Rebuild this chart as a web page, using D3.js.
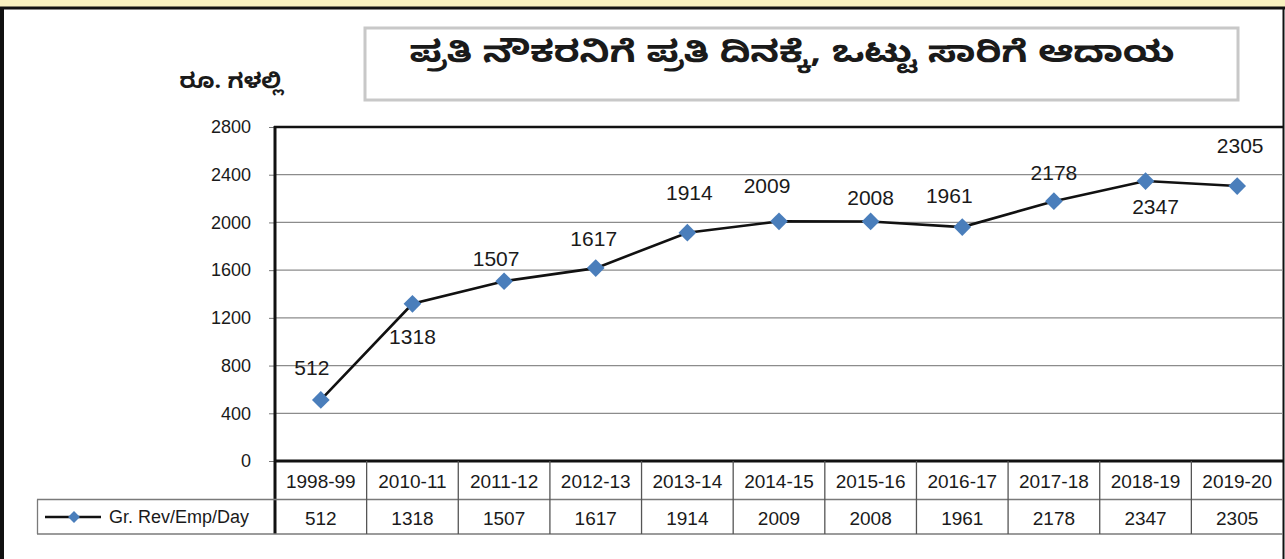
<!DOCTYPE html>
<html>
<head>
<meta charset="utf-8">
<script src="https://cdn.jsdelivr.net/npm/d3@7/dist/d3.min.js"></script>
<style>
  html, body { margin: 0; padding: 0; background: #fff; }
  svg { display: block; }
  text { font-family: "Liberation Sans", Arial, sans-serif; fill: #1a1a1a; }
</style>
</head>
<body>
<svg id="chart" width="1285" height="559"></svg>
<script>
// ---- data ----
const categories = ["1998-99","2010-11","2011-12","2012-13","2013-14","2014-15","2015-16","2016-17","2017-18","2018-19","2019-20"];
const values = [512, 1318, 1507, 1617, 1914, 2009, 2008, 1961, 2178, 2347, 2305];
const yTicks = [0, 400, 800, 1200, 1600, 2000, 2400, 2800];
const seriesName = "Gr. Rev/Emp/Day";
const titleText = "ಪ್ರತಿ ನೌಕರನಿಗೆ ಪ್ರತಿ ದಿನಕ್ಕೆ, ಒಟ್ಟು ಸಾರಿಗೆ ಆದಾಯ";
const yUnitText = "ರೂ. ಗಳಲ್ಲಿ";

// ---- drawing ----
const svg = d3.select("#chart");
const W = 1285, H = 559;
const kn = '"Noto Sans Kannada", "Noto Sans", "Lohit Kannada", "Tunga", sans-serif';

// frame decorations
svg.append("rect").attr("x",0).attr("y",0).attr("width",W).attr("height",H).attr("fill","#fff");
svg.append("rect").attr("x",0).attr("y",0).attr("width",W).attr("height",7).attr("fill","#f9f1c0");
svg.append("line").attr("x1",0).attr("x2",W).attr("y1",8).attr("y2",8).attr("stroke","#111").attr("stroke-width",3);
svg.append("line").attr("x1",2).attr("x2",2).attr("y1",7).attr("y2",H).attr("stroke","#111").attr("stroke-width",4);
svg.append("line").attr("x1",1283.5).attr("x2",1283.5).attr("y1",7).attr("y2",H).attr("stroke","#111").attr("stroke-width",2);

// title box
svg.append("rect").attr("x",365).attr("y",28).attr("width",873).attr("height",72)
  .attr("fill","#fff").attr("stroke","#c8c8c8").attr("stroke-width",3);
svg.append("text").attr("x",792).attr("y",58).attr("text-anchor","middle")
  .attr("dominant-baseline","central")
  .style("font-family", kn).style("font-weight","bold").style("font-size","30px")
  .attr("textLength",765).attr("lengthAdjust","spacingAndGlyphs")
  .text(titleText);

// y unit
svg.append("text").attr("x",231).attr("y",85).attr("text-anchor","middle")
  .attr("dominant-baseline","central")
  .style("font-family", kn).style("font-weight","bold").style("font-size","21px")
  .attr("textLength",103).attr("lengthAdjust","spacingAndGlyphs")
  .text(yUnitText);

// scales
const x = d3.scaleBand().domain(categories).range([275, 1283]).padding(0);
const y = d3.scaleLinear().domain([0, 2800]).range([461, 127]);
const cx = c => x(c) + x.bandwidth()/2;

// gridlines
svg.append("g").selectAll("line").data(yTicks.filter(t => t > 0 && t < 2800)).join("line")
  .attr("x1",275).attr("x2",1283).attr("y1",d=>y(d)).attr("y2",d=>y(d))
  .attr("stroke","#8c8c8c").attr("stroke-width",1.2);

// y axis with ticks
const yAxis = d3.axisLeft(y).tickValues(yTicks).tickSize(6).tickPadding(18).tickFormat(d3.format("d"));
const gy = svg.append("g").attr("transform","translate(275,0)").call(yAxis);
gy.select(".domain").remove();
gy.selectAll(".tick line").attr("stroke","#777").attr("stroke-width",1);
gy.selectAll(".tick text").style("font-size","18px").style("font-family",'"Liberation Sans", Arial, sans-serif').attr("fill","#1a1a1a");

// plot frame: left, top, bottom
svg.append("line").attr("x1",275).attr("x2",275).attr("y1",126).attr("y2",534).attr("stroke","#111").attr("stroke-width",3);
svg.append("line").attr("x1",274).attr("x2",1284).attr("y1",127).attr("y2",127).attr("stroke","#111").attr("stroke-width",2.5);
svg.append("line").attr("x1",274).attr("x2",1284).attr("y1",461).attr("y2",461).attr("stroke","#111").attr("stroke-width",3);

// data table
const rowSep = 499.5, rowBot = 534;
svg.append("line").attr("x1",37).attr("x2",1283).attr("y1",rowSep).attr("y2",rowSep).attr("stroke","#7a7a7a").attr("stroke-width",1.3);
svg.append("line").attr("x1",37).attr("x2",1283).attr("y1",rowBot).attr("y2",rowBot).attr("stroke","#7a7a7a").attr("stroke-width",1.3);
svg.append("line").attr("x1",37.5).attr("x2",37.5).attr("y1",rowSep).attr("y2",rowBot).attr("stroke","#7a7a7a").attr("stroke-width",1.3);
svg.append("g").selectAll("line").data(categories.slice(1)).join("line")
  .attr("x1",d=>x(d)).attr("x2",d=>x(d)).attr("y1",461).attr("y2",rowBot)
  .attr("stroke","#555").attr("stroke-width",1.3);
svg.append("g").selectAll("text").data(categories).join("text")
  .attr("x",d=>cx(d)).attr("y",481).attr("text-anchor","middle").attr("dominant-baseline","central")
  .style("font-size","19px").text(d=>d);
svg.append("g").selectAll("text").data(values).join("text")
  .attr("x",(d,i)=>cx(categories[i])).attr("y",518).attr("text-anchor","middle").attr("dominant-baseline","central")
  .style("font-size","19px").text(d=>d);

// legend key in table
const diamond = d3.symbol().type(d3.symbolDiamond2);
svg.append("line").attr("x1",45).attr("x2",101).attr("y1",517).attr("y2",517).attr("stroke","#111").attr("stroke-width",2.5);
svg.append("path").attr("d",diamond.size(90)()).attr("transform","translate(74,517)").attr("fill","#4a7ebb");
svg.append("text").attr("x",109).attr("y",517).attr("dominant-baseline","central")
  .style("font-size","18px").text(seriesName);

// series line
const line = d3.line().x((d,i)=>cx(categories[i])).y(d=>y(d));
svg.append("path").datum(values).attr("d",line).attr("fill","none").attr("stroke","#111").attr("stroke-width",2.6);

// markers
svg.append("g").selectAll("path").data(values).join("path")
  .attr("d", diamond.size(200)())
  .attr("transform",(d,i)=>`translate(${cx(categories[i])},${y(d)})`)
  .attr("fill","#4a7ebb");

// data labels (manual placement like the original)
const labelOffsets = [[-9,-32],[0,33],[-8,-23],[-2,-30],[2,-40],[-12,-36],[0,-24],[-13,-32],[0,-29],[10,25],[3,-41]];
svg.append("g").selectAll("text").data(values).join("text")
  .attr("x",(d,i)=>cx(categories[i]) + labelOffsets[i][0])
  .attr("y",(d,i)=>y(d) + labelOffsets[i][1])
  .attr("text-anchor","middle").attr("dominant-baseline","central")
  .style("font-size","21px").text(d=>d);
</script>
</body>
</html>
